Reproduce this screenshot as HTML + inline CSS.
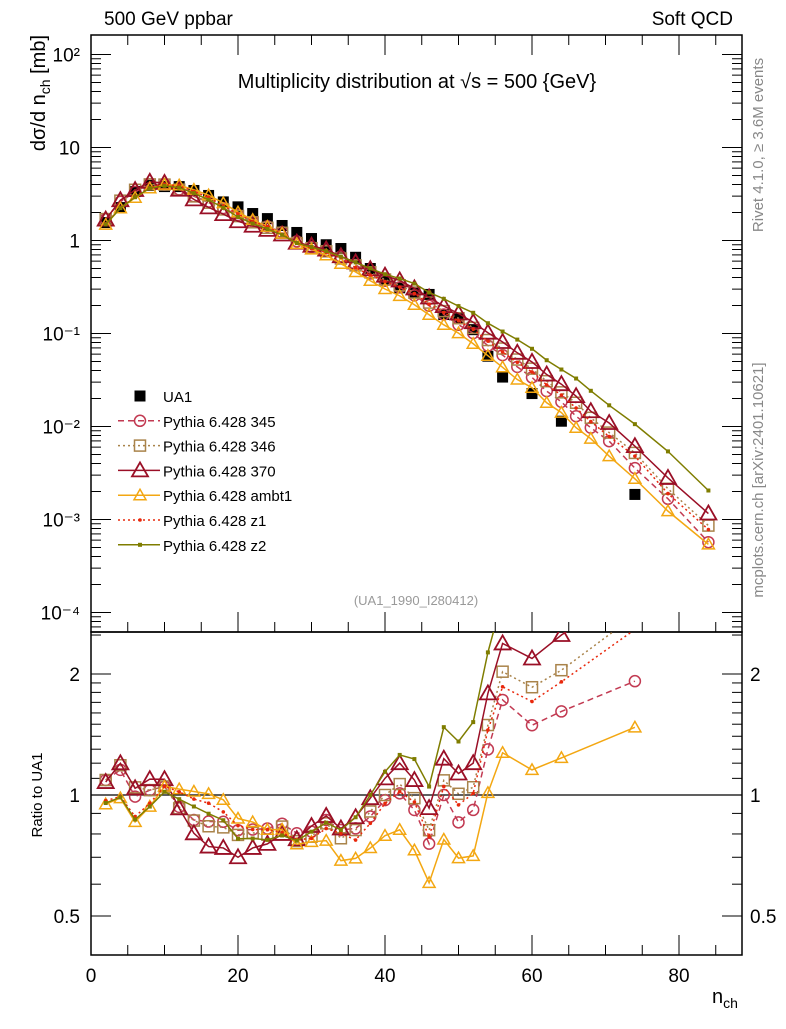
<!DOCTYPE html>
<html><head><meta charset="utf-8"><style>
body{margin:0;background:#fff;width:786px;height:1024px;overflow:hidden}
svg{font-family:"Liberation Sans",sans-serif}
</style></head><body>
<svg id="chart" width="786" height="1024" viewBox="0 0 786 1024" xmlns="http://www.w3.org/2000/svg">
<defs>
<clipPath id="clipTop"><rect x="91" y="35" width="651" height="597"/></clipPath>
<clipPath id="clipRat"><rect x="91" y="632" width="651" height="323"/></clipPath>
</defs>
<text x="104" y="25" font-size="19">500 GeV ppbar</text>
<text x="733" y="25" font-size="19" text-anchor="end">Soft QCD</text>
<text x="417" y="88" font-size="20" text-anchor="middle">Multiplicity distribution at √s = 500 {GeV}</text>
<text x="416" y="605" font-size="13" fill="#999" text-anchor="middle">(UA1_1990_I280412)</text>
<text transform="translate(763,145) rotate(-90)" font-size="15" fill="#888" text-anchor="middle">Rivet 4.1.0, ≥ 3.6M events</text>
<text transform="translate(763,480) rotate(-90)" font-size="15" fill="#888" text-anchor="middle">mcplots.cern.ch [arXiv:2401.10621]</text>
<text transform="translate(45,35) rotate(-90)" font-size="20" text-anchor="end">dσ/d n<tspan font-size="14" dy="5">ch</tspan><tspan dy="-5"> [mb]</tspan></text>
<text transform="translate(42,795) rotate(-90)" font-size="15" text-anchor="middle">Ratio to UA1</text>
<text x="712" y="1003" font-size="20">n<tspan font-size="14" dy="5">ch</tspan></text>
<g id="axes"></g>
<g id="marksTop" clip-path="url(#clipTop)"></g>
<g id="marksRat" clip-path="url(#clipRat)"></g>
<g id="legend"></g>
</svg>
<script>
const ua1X=[2,4,6,8,10,12,14,16,18,20,22,24,26,28,30,32,34,36,38,40,42,44,46,48,50,52,54,56,60,64,74];
const ua1Y=[1.56,2.26,3.36,3.9,3.8,3.8,3.45,3.05,2.6,2.3,1.95,1.72,1.45,1.22,1.05,0.9,0.82,0.66,0.5,0.38,0.31,0.28,0.263,0.16,0.145,0.11,0.057,0.034,0.0226,0.0114,0.00186];
const mcX=[2,4,6,8,10,12,14,16,18,20,22,24,26,28,30,32,34,36,38,40,42,44,46,48,50,52,54,56,58,60,62,64,66,68,70.5,74,78.5,84];
const y345=[1.70,2.61,3.33,4.01,3.99,3.55,2.99,2.62,2.23,1.88,1.60,1.42,1.23,0.980,0.851,0.780,0.671,0.545,0.442,0.369,0.313,0.257,0.199,0.160,0.124,0.101,0.0740,0.0586,0.0438,0.0337,0.024,0.0184,0.0129,0.0097,0.00695,0.00357,0.00167,0.00057];
const y346=[1.70,2.68,3.51,4.01,3.99,3.52,2.98,2.55,2.16,1.83,1.57,1.37,1.21,0.937,0.827,0.765,0.640,0.540,0.455,0.380,0.330,0.275,0.215,0.174,0.146,0.115,0.0851,0.0689,0.0525,0.0419,0.0307,0.0233,0.018,0.0124,0.0086,0.0052,0.00214,0.00086];
const y370=[1.68,2.71,3.49,4.27,4.16,3.52,2.77,2.27,1.92,1.61,1.44,1.30,1.16,0.947,0.879,0.798,0.677,0.581,0.491,0.418,0.372,0.305,0.244,0.197,0.164,0.132,0.102,0.081,0.062,0.0494,0.0362,0.0285,0.0212,0.0146,0.0109,0.00615,0.0028,0.00116];
const yAmbt1=[1.48,2.22,2.88,3.65,3.99,3.93,3.52,3.07,2.53,2.01,1.67,1.41,1.19,0.920,0.803,0.693,0.563,0.459,0.369,0.301,0.254,0.204,0.159,0.124,0.101,0.0776,0.0577,0.0433,0.032,0.0261,0.018,0.0141,0.0097,0.0074,0.0048,0.00274,0.00123,0.00054];
const yZ1=[1.51,2.24,2.97,3.72,3.99,3.87,3.37,2.91,2.36,1.93,1.60,1.41,1.17,0.943,0.819,0.743,0.658,0.510,0.425,0.362,0.316,0.269,0.207,0.168,0.137,0.111,0.0827,0.0632,0.049,0.0386,0.028,0.0218,0.0158,0.0113,0.0078,0.0048,0.0019,0.00078];
const yZ2=[1.49,2.23,2.92,3.65,3.87,3.71,3.23,2.74,2.25,1.79,1.52,1.33,1.15,0.939,0.851,0.768,0.671,0.581,0.50,0.434,0.390,0.344,0.276,0.236,0.197,0.167,0.129,0.105,0.086,0.0685,0.0516,0.041,0.0328,0.0242,0.0169,0.0106,0.0054,0.00205];
const seriesNames=["Pythia 6.428 345","Pythia 6.428 346","Pythia 6.428 370","Pythia 6.428 ambt1","Pythia 6.428 z1","Pythia 6.428 z2"];
const xTicks=[0,20,40,60,80];
const ratioTicks=[0.5,1,2];

const NS="http://www.w3.org/2000/svg";
const X=v=>91+v*7.35;
const YT=v=>240.5-93*Math.log10(v);
const YR=v=>795-402*Math.log10(v);
function mk(tag,attrs,parent){const e=document.createElementNS(NS,tag);for(const k in attrs)e.setAttribute(k,attrs[k]);parent.appendChild(e);return e;}
const axes=document.getElementById('axes'),gT=document.getElementById('marksTop'),gR=document.getElementById('marksRat'),gL=document.getElementById('legend');

let f1=mk('rect',{x:91,y:35,width:651,height:597,fill:'none',stroke:'#000','stroke-width':1.5},axes);


let f2=mk('rect',{x:91,y:632,width:651,height:323,fill:'none',stroke:'#000','stroke-width':1.5},axes);



for(let v=0;v<=88;v+=5){
  const maj=v%20===0,L=maj?20:10;
  for(const [yb,dir] of [[955,-1],[632,-1],[35,1]]){
    const t=mk('line',{x1:X(v),x2:X(v),y1:yb,y2:yb+dir*L,stroke:'#000','stroke-width':1},axes);
    
    
  }
}
xTicks.forEach(v=>{const t=mk('text',{x:X(v),y:982,'font-size':19,'text-anchor':'middle'},axes);t.textContent=v;
  
  });

const sup={2:'²','-1':'⁻¹','-2':'⁻²','-3':'⁻³','-4':'⁻⁴'};
for(let e=-5;e<=2;e++){
  for(let m=1;m<10;m++){
    const v=m*Math.pow(10,e),y=YT(v);
    if(y<35||y>632)continue;
    const L=m===1?20:10;
    mk('line',{x1:91,x2:91+L,y1:y,y2:y,stroke:'#000'},axes);
    mk('line',{x1:742,x2:742-L,y1:y,y2:y,stroke:'#000'},axes);
    if(m===1){
      const t=mk('text',{x:80,y:y+7,'font-size':19,'text-anchor':'end'},axes);
      t.textContent=e===0?'1':e===1?'10':'10'+sup[e];
      
      
    }
  }
}
for(const v of [0.5,0.6,0.7,0.8,0.9,1,1.1,1.2,1.3,1.4,1.5,1.6,1.7,1.8,1.9,2,2.5]){
  const y=YR(v);if(y<632||y>955)continue;
  const L=ratioTicks.includes(v)?20:10;
  mk('line',{x1:91,x2:91+L,y1:y,y2:y,stroke:'#000'},axes);
  mk('line',{x1:742,x2:742-L,y1:y,y2:y,stroke:'#000'},axes);
}
ratioTicks.forEach(v=>{
  const a=mk('text',{x:80,y:YR(v)+7,'font-size':19,'text-anchor':'end'},axes);a.textContent=v;
  
  
  const b=mk('text',{x:750,y:YR(v)+7,'font-size':19},axes);b.textContent=v;
  
  
});
const one=mk('line',{x1:91,x2:742,y1:YR(1),y2:YR(1),stroke:'#000','stroke-width':1.2},axes);



function marker(g,type,x,y,c){
  let e;
  if(type==='circle')e=mk('circle',{cx:x,cy:y,r:5.5,fill:'none',stroke:c,'stroke-width':1.5},g);
  else if(type==='square')e=mk('rect',{x:x-5.5,y:y-5.5,width:11,height:11,fill:'none',stroke:c,'stroke-width':1.5},g);
  else if(type==='tri')e=mk('path',{d:`M${x},${y-8}L${x+8},${y+6}L${x-8},${y+6}Z`,fill:'none',stroke:c,'stroke-width':1.8},g);
  else if(type==='tris')e=mk('path',{d:`M${x},${y-6}L${x+6},${y+4.5}L${x-6},${y+4.5}Z`,fill:'none',stroke:c,'stroke-width':1.5},g);
  else if(type==='dot')e=mk('circle',{cx:x,cy:y,r:1.8,fill:c},g);
  else if(type==='fsq')e=mk('rect',{x:x-2,y:y-2,width:4,height:4,fill:c},g);
  else e=mk('rect',{x:x-5.5,y:y-5.5,width:11,height:11,fill:c},g);
  
  
  return e;
}
const series=[
 {vals:y345,c:'#c23a52',dash:'6,4',m:'circle',key:'345'},
 {vals:y346,c:'#a9834a',dash:'2,3',m:'square',key:'346'},
 {vals:y370,c:'#9a0f26',dash:'',m:'tri',key:'370'},
 {vals:yAmbt1,c:'#f3a712',dash:'',m:'tris',key:'ambt1'},
 {vals:yZ1,c:'#e8280c',dash:'2,3',m:'dot',key:'z1'},
 {vals:yZ2,c:'#7f7d00',dash:'',m:'fsq',key:'z2'}
];
const gd=mk('g',{},gT);


ua1X.forEach((x,i)=>marker(gd,'data',X(x),YT(ua1Y[i]),'#000'));
series.forEach(s=>{
  const g=mk('g',{},gT);
  
  
  const pts=mcX.map((x,i)=>X(x)+','+YT(s.vals[i])).join(' ');
  const pl=mk('polyline',{points:pts,fill:'none',stroke:s.c,'stroke-width':1.5,'stroke-dasharray':s.dash},g);
  
  
  mcX.forEach((x,i)=>marker(g,s.m,X(x),YT(s.vals[i]),s.c));
  const gr=mk('g',{},gR);
  
  
  const rp=[];
  ua1X.forEach((x,j)=>{const i=mcX.indexOf(x);if(i<0)return;rp.push([X(x),YR(s.vals[i]/ua1Y[j])]);});
  const rl=mk('polyline',{points:rp.map(p=>p.join(',')).join(' '),fill:'none',stroke:s.c,'stroke-width':1.5,'stroke-dasharray':s.dash},gr);
  
  
  rp.forEach(p=>marker(gr,s.m,p[0],p[1],s.c));
});

const ly0=396,ld=24.8;
const le=mk('g',{},gL);


marker(le,'data',140,ly0,'#000');
let t0=mk('text',{x:163,y:ly0+6,'font-size':15},le);t0.textContent='UA1';
series.forEach((s,k)=>{
  const y=ly0+ld*(k+1);
  const g=mk('g',{},gL);
  
  
  mk('line',{x1:118,x2:160,y1:y,y2:y,stroke:s.c,'stroke-width':1.5,'stroke-dasharray':s.dash},g);
  marker(g,s.m,140,y,s.c);
  const t=mk('text',{x:163,y:y+6,'font-size':15},g);t.textContent=seriesNames[k];
});
</script>
</body></html>
